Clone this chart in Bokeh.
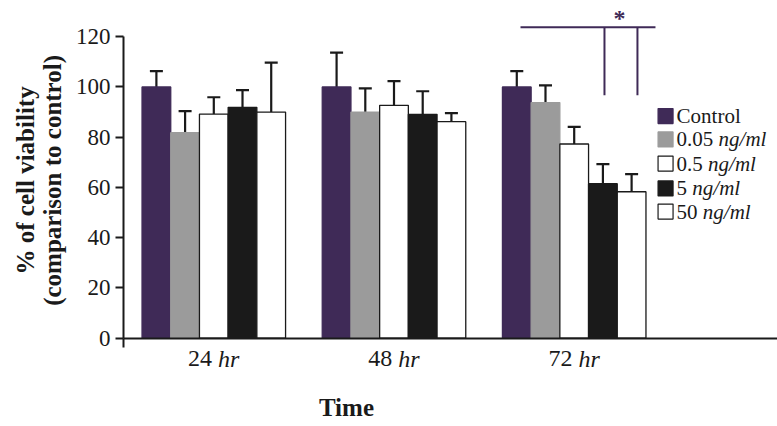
import math
from bokeh.plotting import figure
from bokeh.models import Range1d, FixedTicker, Whisker, TeeHead, ColumnDataSource
from bokeh.core.properties import value
from bokeh.embed import file_html
from bokeh.resources import INLINE

# ---------------- data ----------------
time_nums = ["24", "48", "72"]
time_unit = "hr"
series_names = ["Control", "0.05", "0.5", "5", "50"]
series_unit = ["", "ng/ml", "ng/ml", "ng/ml", "ng/ml"]
control = [100.0, 100.0, 100.0]
conc_005 = [81.8, 90.0, 93.8]
conc_05 = [89.2, 92.7, 77.3]
conc_5 = [91.9, 89.1, 61.5]
conc_50 = [90.0, 86.2, 58.3]
sd_control = [6.3, 13.7, 6.3]
sd_005 = [8.6, 9.4, 6.8]
sd_05 = [6.7, 9.6, 6.8]
sd_5 = [6.8, 9.2, 7.8]
sd_50 = [19.7, 3.4, 7.0]
y_ticks = [0, 20, 40, 60, 80, 100, 120]
y_title = ["% of cell viability", "(comparison to control)"]
x_title = "Time"

# ---------------- style / layout ----------------
SERIF = "Liberation Serif"
PURPLE = "#3f2a57"
GRAY = "#9b9b9b"
BLACK = "#1a1a1a"
WHITE = "#ffffff"
fills = [PURPLE, GRAY, WHITE, BLACK, WHITE]
lines = [PURPLE, GRAY, BLACK, BLACK, BLACK]
BAR_W = 0.1593
X0, X1 = -1.1837, 3.1282
Y0, Y1 = -35.14, 134.41
AXIS_X = -0.5011

p = figure(width=777, height=426, output_backend="svg", toolbar_location=None,
           x_range=Range1d(X0, X1), y_range=Range1d(Y0, Y1),
           min_border=0)
p.outline_line_color = None
p.xgrid.visible = False
p.ygrid.visible = False
p.background_fill_color = WHITE

all_vals = [control, conc_005, conc_05, conc_5, conc_50]
all_sd = [sd_control, sd_005, sd_05, sd_5, sd_50]
for k, (vals, sds) in enumerate(zip(all_vals, all_sd)):
    xs = [i + (k - 2) * BAR_W for i in range(len(vals))]
    src = ColumnDataSource(dict(x=xs, top=vals, upper=[v + s for v, s in zip(vals, sds)]))
    p.vbar(x="x", top="top", width=BAR_W, source=src, fill_color=fills[k],
           line_color=lines[k], line_width=1.3)
    w = Whisker(source=src, base="x", lower="top", upper="upper",
                line_color=BLACK, line_width=2.2, lower_head=None,
                upper_head=TeeHead(size=13, line_color=BLACK, line_width=2.2))
    p.add_layout(w)

# y axis (drawn at a fixed location inside the canvas)
yax = p.yaxis[0]
yax.fixed_location = AXIS_X
yax.ticker = FixedTicker(ticks=y_ticks)
yax.bounds = (0, 120)
yax.major_tick_out = 8
yax.major_tick_in = 0
yax.minor_tick_line_color = None
yax.axis_line_width = 2
yax.major_tick_line_width = 2
yax.axis_line_color = BLACK
yax.major_tick_line_color = BLACK
yax.major_label_text_font = SERIF
yax.major_label_text_font_size = "23px"
yax.major_label_text_color = BLACK
yax.major_label_standoff = 5

# x axis at y = 0
xax = p.xaxis[0]
xax.fixed_location = 0
xax.ticker = FixedTicker(ticks=[AXIS_X])
xax.bounds = (AXIS_X, X1)
xax.major_tick_out = 9
xax.major_tick_in = 0
xax.minor_tick_line_color = None
xax.axis_line_width = 2
xax.major_tick_line_width = 2
xax.axis_line_color = BLACK
xax.major_tick_line_color = BLACK
xax.major_label_text_font_size = "0px"
xax.major_label_text_alpha = 0

# y axis title (two lines, rotated)
p.text(x=[-1.045, -0.895], y=[62.8, 62.8], text=y_title, angle=math.pi / 2,
       text_font=value(SERIF), text_font_style="bold", text_font_size="25px",
       text_color=BLACK, text_align="center", text_baseline="middle")

# x tick labels with italic unit
gx = list(range(len(time_nums)))
p.text(x=gx, y=[-8.1] * 3, text=time_nums, x_offset=-25.7, text_font=value(SERIF),
       text_font_size="24px", text_color=BLACK, text_align="left", text_baseline="middle")
p.text(x=gx, y=[-8.1] * 3, text=[time_unit] * 3, x_offset=4.3, text_font=value(SERIF),
       text_font_style="italic", text_font_size="24px", text_color=BLACK,
       text_align="left", text_baseline="middle")
p.text(x=[0.736], y=[-27.6], text=[x_title], text_font=value(SERIF), text_font_style="bold",
       text_font_size="25px", text_color=BLACK, text_align="center", text_baseline="middle")

# significance bracket
p.segment(x0=[1.702, 2.168, 2.351], y0=[123.8, 123.8, 123.8],
          x1=[2.451, 2.168, 2.351], y1=[123.8, 96.7, 96.7],
          line_color=PURPLE, line_width=2)
p.text(x=[2.251], y=[127.6], text=["*"], text_font=value(SERIF), text_font_size="24px",
       text_font_style="bold", text_color=PURPLE, text_align="center", text_baseline="middle")

# legend (manual, to allow italic units)
leg_y = [88.4, 79.1, 69.5, 59.6, 50.4]
leg_x = 2.507
p.scatter(x=[leg_x] * 5, y=leg_y, marker="square", size=15, fill_color=fills,
          line_color=lines, line_width=1.2)
num_w = [0, 42, 31.5, 15.75, 26.25]
txt_x = 2.568
p.text(x=[txt_x] * 5, y=leg_y, text=series_names, text_font=value(SERIF),
       text_font_size="21px", text_color=BLACK, text_align="left", text_baseline="middle")
for k in range(1, 5):
    p.text(x=[txt_x], y=[leg_y[k]], text=[series_unit[k]], x_offset=num_w[k],
           text_font=value(SERIF), text_font_style="italic", text_font_size="21px",
           text_color=BLACK, text_align="left", text_baseline="middle")

open("out.html", "w").write(file_html(p, INLINE))
